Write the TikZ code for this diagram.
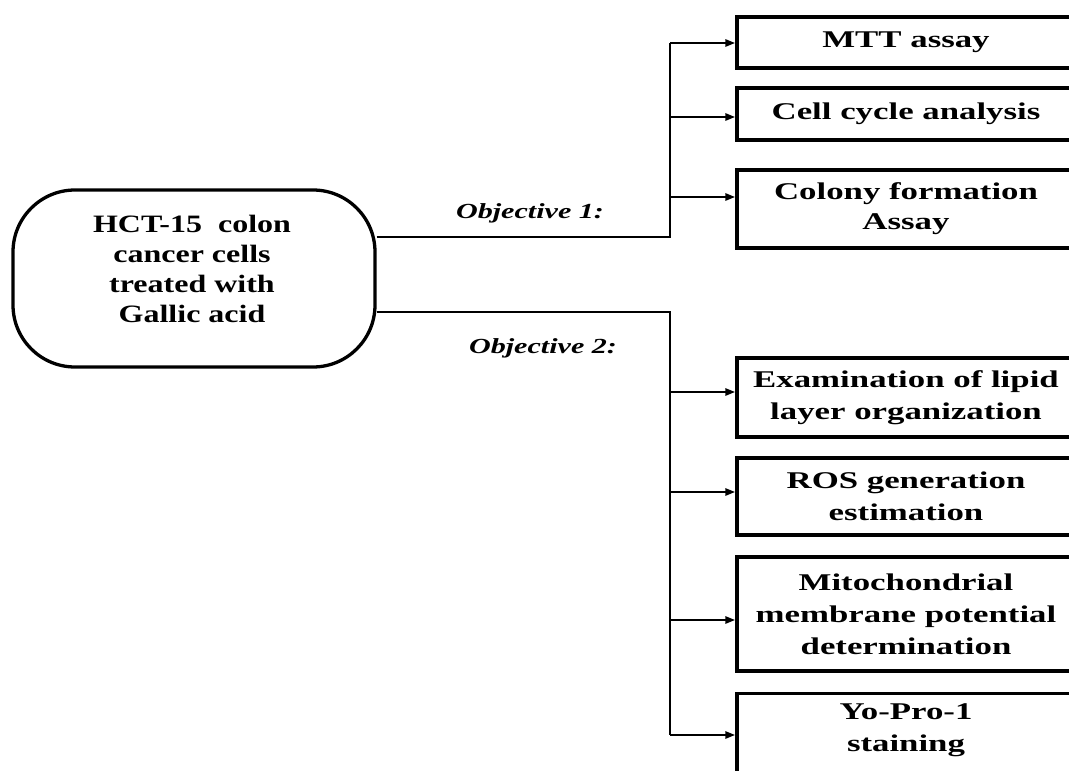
\documentclass[tikz,border=0pt]{standalone}
\usepackage{fontspec}
\setmainfont{Liberation Serif}
\newfontfamily\mainfnt{Liberation Serif}[FakeStretch=1.28]
\newfontfamily\boxfnt{Liberation Serif}[FakeStretch=1.45]
\newfontfamily\objfnt{Liberation Serif}[FakeStretch=1.4]
\usetikzlibrary{arrows.meta}
\begin{document}
\begin{tikzpicture}[x=1pt,y=-1pt,
  rbox/.style={draw=black,line width=3.3pt,minimum width=338pt,inner sep=0pt,align=center,
    font=\boxfnt\bfseries\fontsize{24}{32}\selectfont},
  conn/.style={line width=2.7pt},
  arr/.style={line width=2.7pt,-{Triangle[length=10pt,width=7pt]}},
  obj/.style={font=\objfnt\bfseries\itshape\fontsize{21.5}{25}\selectfont}]
\useasboundingbox (0,0) rectangle (1069,771);
\clip (0,0) rectangle (1069,771);
% main box
\node[draw=black,line width=3.3pt,rounded corners=62pt,minimum width=362pt,minimum height=177pt] (main) at (194,278.5) {};
\node[align=center,font=\mainfnt\bfseries\fontsize{25}{30}\selectfont] (maintext) at (192,268.5)
  {HCT-15\ \ colon\\cancer cells\\treated with\\Gallic acid};
% right boxes
\node[rbox,minimum height=51pt] (mtt) at (906,42.5) {MTT assay};
\node[rbox,minimum height=52pt] (cell) at (906,114) {Cell cycle analysis};
\node[rbox,minimum height=78pt] (colony) at (906,209) {Colony formation\\[-2pt]Assay};
\node[rbox,minimum height=79pt] (lipid) at (906,397.5) {Examination of lipid\\layer organization};
\node[rbox,minimum height=77pt] (ros) at (906,496.5) {ROS generation\\estimation};
\node[rbox,minimum height=114pt] (mito) at (906,614) {Mitochondrial\\membrane potential\\determination};
\node[rbox,minimum height=108pt,anchor=north] (yopro) at (906,692) {\\[-6pt]Yo-Pro-1\\staining\\ \\ };
% objective labels
\node[obj] (o1lab) at (530,213) {Objective 1:};
\node[obj] (o2lab) at (543,348) {Objective 2:};
% trunk coordinates
\coordinate (j1) at (670,237);
\coordinate (a1) at (670,43);
\coordinate (a2) at (670,117);
\coordinate (a3) at (670,197);
\coordinate (j2) at (670,312);
\coordinate (b1) at (670,392);
\coordinate (b2) at (670,492);
\coordinate (b3) at (670,620);
\coordinate (b4) at (670,735);
% objective 1
\draw[conn] (main.east |- j1) -- (j1) -- (a1);
\draw[arr] (a1) -- (mtt.west |- a1);
\draw[arr] (a2) -- (cell.west |- a2);
\draw[arr] (a3) -- (colony.west |- a3);
% objective 2
\draw[conn] (main.east |- j2) -- (j2) -- (b4);
\draw[arr] (b1) -- (lipid.west |- b1);
\draw[arr] (b2) -- (ros.west |- b2);
\draw[arr] (b3) -- (mito.west |- b3);
\draw[arr] (b4) -- (yopro.west |- b4);
\end{tikzpicture}
\end{document}
